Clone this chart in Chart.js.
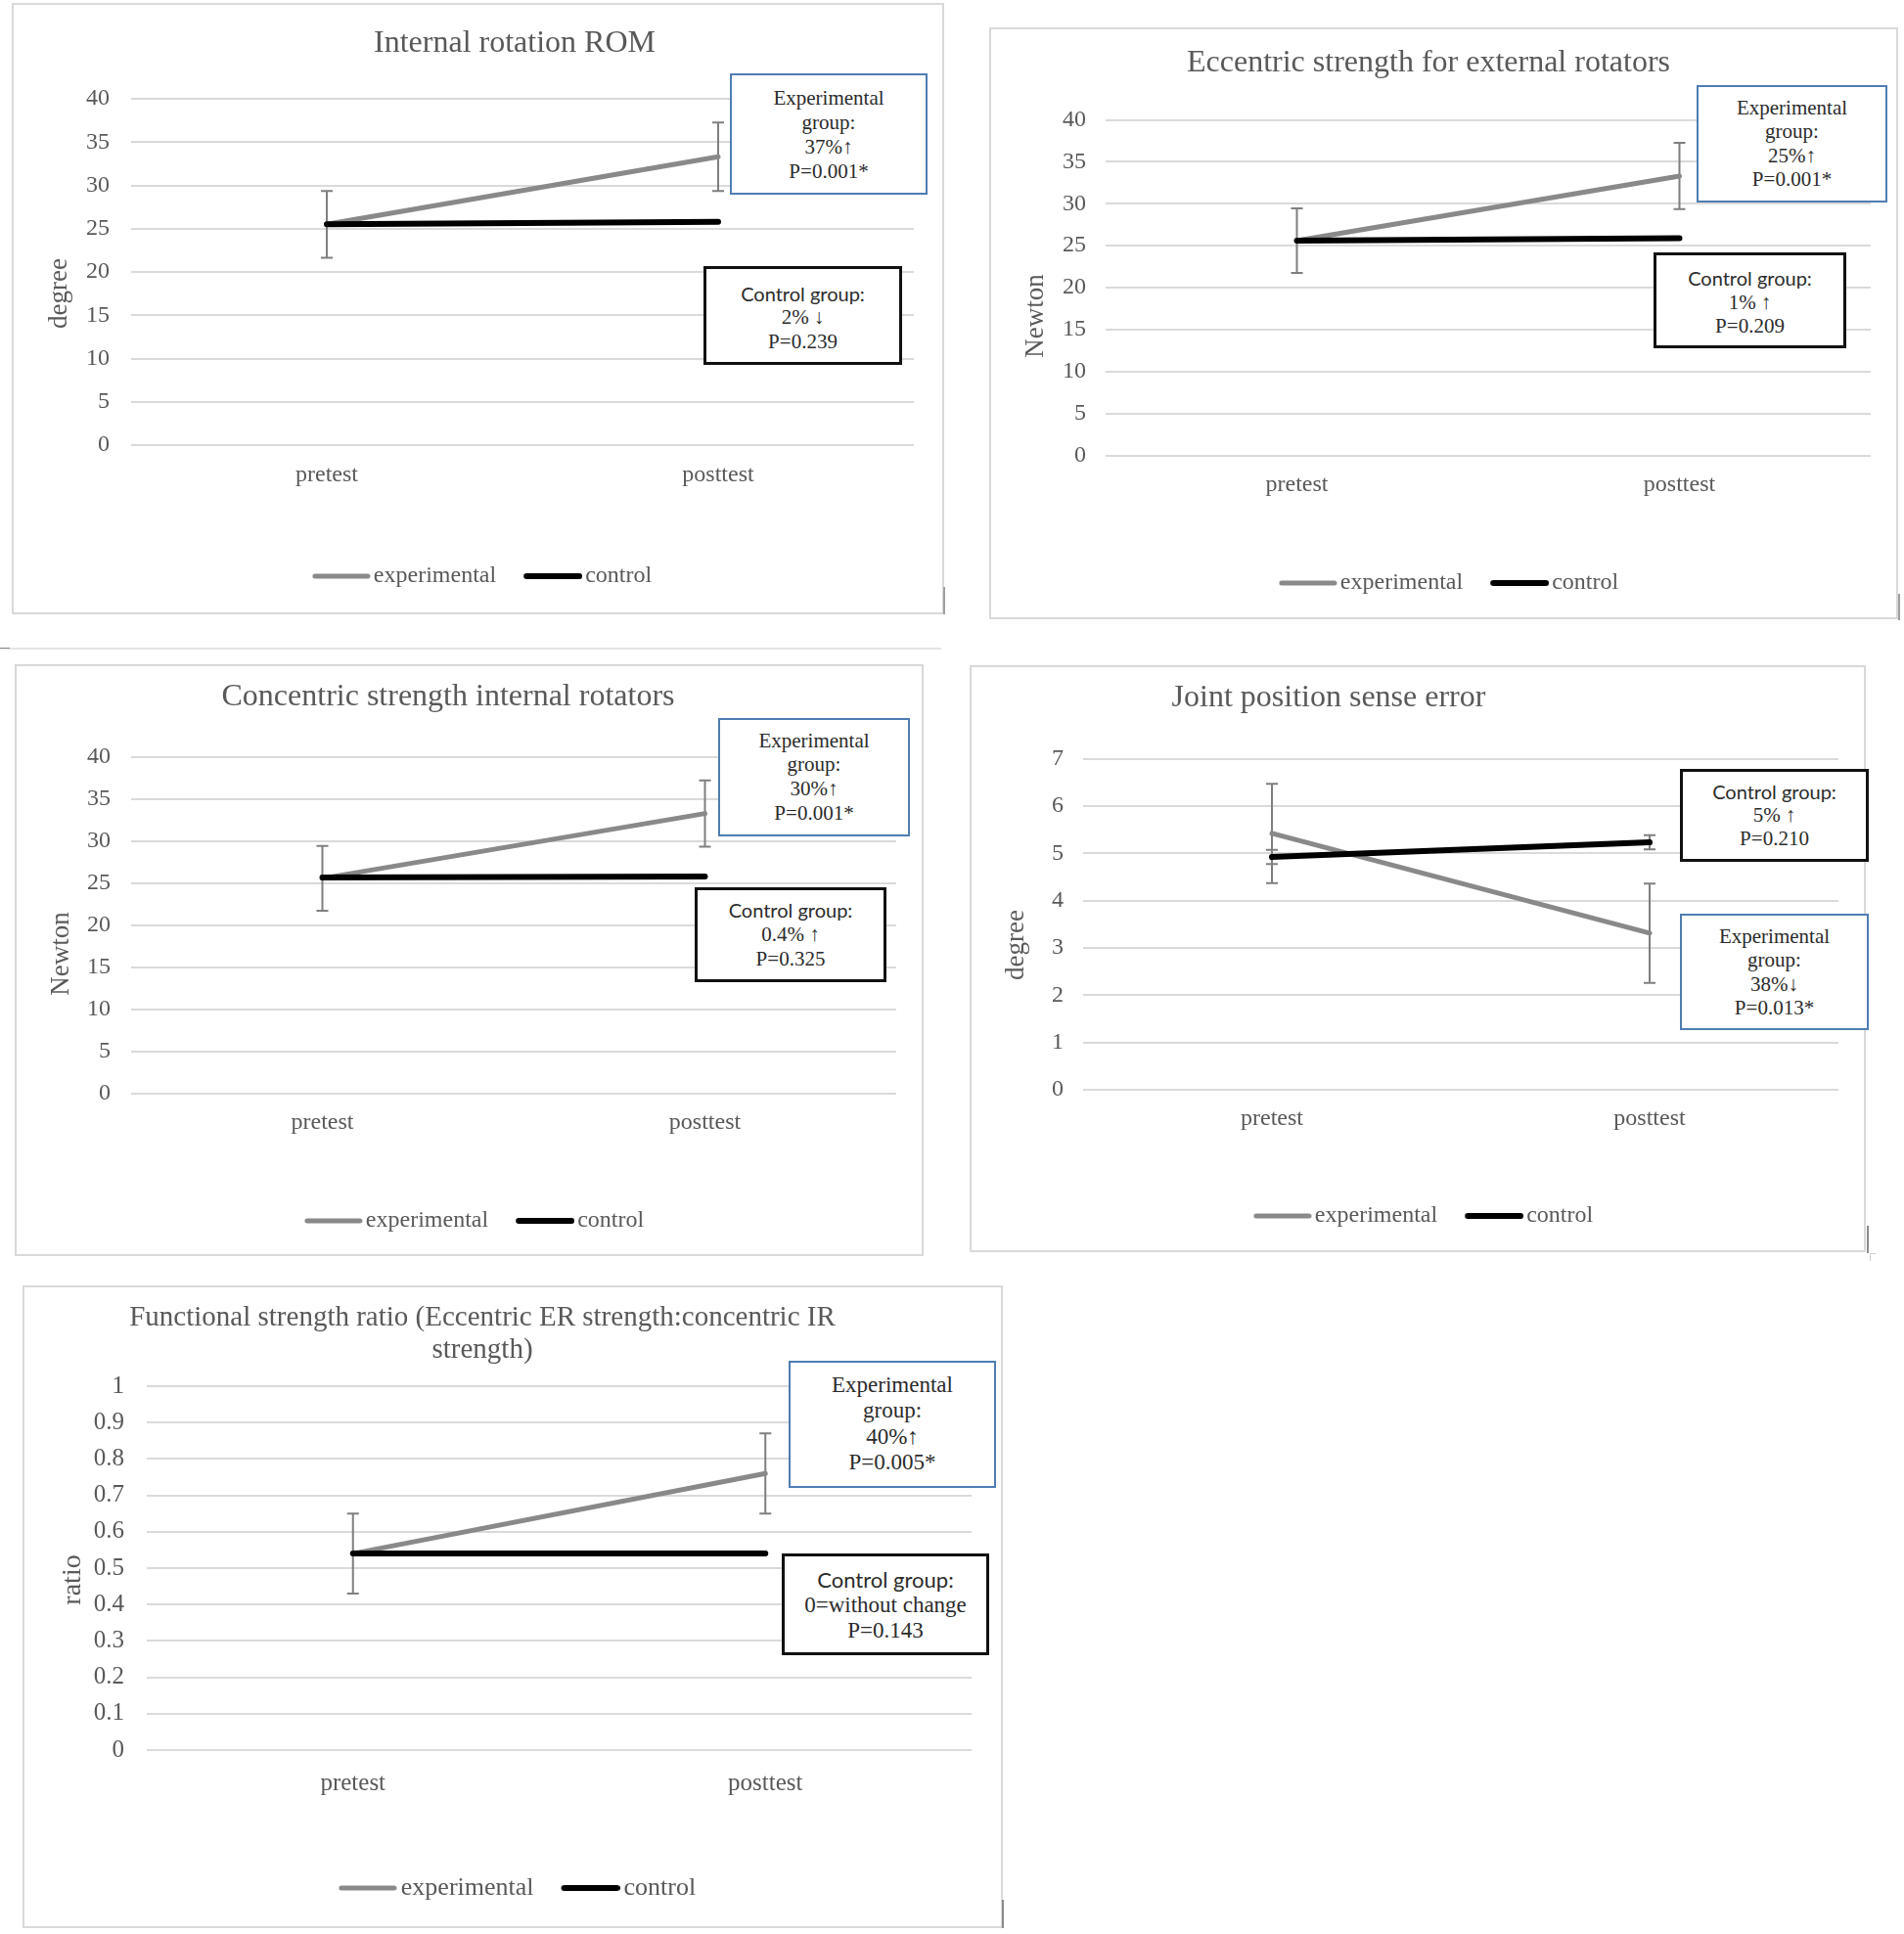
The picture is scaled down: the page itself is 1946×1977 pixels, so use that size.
<!DOCTYPE html>
<html><head><meta charset="utf-8">
<script src="https://cdn.jsdelivr.net/npm/chart.js@4.4.1/dist/chart.umd.min.js"></script>
<style>
html,body{margin:0;padding:0;background:#fff;}
body{width:1946px;height:1977px;position:relative;overflow:hidden;}
.frame{position:absolute;box-sizing:border-box;border:2px solid #d9d9d9;}
canvas{position:absolute;}
.box{position:absolute;box-sizing:border-box;background:#fff;text-align:center;color:#2b2b2b;font-family:"Liberation Serif","Times New Roman",serif;white-space:nowrap;}
.box.exp{border:2px solid #4e7db3;}
.box.ctl{border:3px solid #111;}
.box .sans{font-family:Lato,"Liberation Sans",sans-serif;}
.mark{position:absolute;}
</style></head><body>
<script>
// ---------- data ----------
const categories = ['pretest', 'posttest'];
const seriesNames = ['experimental', 'control'];

const romExperimental = [25.5, 33.3];
const romExperimentalSD = [3.85, 3.95];
const romControl = [25.5, 25.8];

const eccExperimental = [25.6, 33.3];
const eccExperimentalSD = [3.85, 3.95];
const eccControl = [25.6, 25.9];

const conExperimental = [25.6, 33.3];
const conExperimentalSD = [3.85, 3.95];
const conControl = [25.7, 25.8];

const jpsExperimental = [5.42, 3.31];
const jpsExperimentalSD = [1.05, 1.05];
const jpsControl = [4.92, 5.23];
const jpsControlSD = [0.15, 0.15];

const fsrExperimental = [0.54, 0.76];
const fsrExperimentalSD = [0.11, 0.11];
const fsrControl = [0.54, 0.54];

const ticks0to40 = [0, 5, 10, 15, 20, 25, 30, 35, 40];
const ticks0to7 = [0, 1, 2, 3, 4, 5, 6, 7];
const ticksRatio = [0, 0.1, 0.2, 0.3, 0.4, 0.5, 0.6, 0.7, 0.8, 0.9, 1];

const titleRom = 'Internal rotation ROM';
const titleEcc = 'Eccentric strength for external rotators';
const titleCon = 'Concentric strength internal rotators';
const titleJps = 'Joint position sense error';
const titleFsr = ['Functional strength ratio (Eccentric ER strength:concentric IR', 'strength)'];

const noteRomExp = ['Experimental', 'group:', '37%↑', 'P=0.001*'];
const noteRomCtl = ['Control group:', '2% ↓', 'P=0.239'];
const noteEccExp = ['Experimental', 'group:', '25%↑', 'P=0.001*'];
const noteEccCtl = ['Control group:', '1% ↑', 'P=0.209'];
const noteConExp = ['Experimental', 'group:', '30%↑', 'P=0.001*'];
const noteConCtl = ['Control group:', '0.4% ↑', 'P=0.325'];
const noteJpsCtl = ['Control group:', '5% ↑', 'P=0.210'];
const noteJpsExp = ['Experimental', 'group:', '38%↓', 'P=0.013*'];
const noteFsrExp = ['Experimental', 'group:', '40%↑', 'P=0.005*'];
const noteFsrCtl = ['Control group:', '0=without change', 'P=0.143'];

// ---------- plugins ----------
const SERIF = "'Liberation Serif','Times New Roman',serif";
const LEG_W = 54;   // legend icon slot width

function legendIcon(color, width) {
  // line icon shifted right so it sits next to the label text
  const c = document.createElement('canvas');
  c.width = LEG_W + 18; c.height = 10;
  const g = c.getContext('2d');
  g.strokeStyle = color; g.lineWidth = width; g.lineCap = 'round';
  g.beginPath(); g.moveTo(15, 5); g.lineTo(c.width - 3, 5); g.stroke();
  return c;
}

const layoutFix = {
  id: 'layoutFix',
  afterLayout(chart, args, o) {
    const t = chart.titleBlock;
    if (t) {
      t.left = o.tx - 700; t.right = o.tx + 700; t.width = 1400;
      const h = t.height; t.top = o.ty - o.tlh / 2; t.bottom = t.top + h;
    }
    const lg = chart.legend;
    if (lg) { lg.left = 0; lg.right = 2 * o.lc; lg.width = 2 * o.lc; }
  }
};
const axisTitle = {
  id: 'axisTitle',
  afterDraw(chart, args, o) {
    const ctx = chart.ctx;
    ctx.save();
    ctx.translate(o.x, o.y);
    ctx.rotate(-Math.PI / 2);
    ctx.font = o.size + 'px ' + SERIF;
    ctx.fillStyle = '#595959';
    ctx.textAlign = 'center';
    ctx.textBaseline = 'middle';
    ctx.fillText(o.text, 0, 0);
    ctx.restore();
  }
};
const errorBars = {
  id: 'errorBars',
  beforeDatasetsDraw(chart, args, o) {
    const ctx = chart.ctx, ys = chart.scales.y;
    chart.data.datasets.forEach((ds, i) => {
      if (!ds.errorBars) return;
      const meta = chart.getDatasetMeta(i);
      meta.data.forEach((pt, j) => {
        const v = ds.data[j], e = ds.errorBars[j];
        const yt = ys.getPixelForValue(v + e), yb = ys.getPixelForValue(v - e);
        const c = o.cap / 2;
        ctx.save();
        ctx.strokeStyle = o.color; ctx.lineWidth = o.width;
        ctx.beginPath();
        ctx.moveTo(pt.x, yt); ctx.lineTo(pt.x, yb);
        ctx.moveTo(pt.x - c, yt); ctx.lineTo(pt.x + c, yt);
        ctx.moveTo(pt.x - c, yb); ctx.lineTo(pt.x + c, yb);
        ctx.stroke();
        ctx.restore();
      });
    });
  }
};

function addDiv(cls, l, t, w, h, bg) {
  const d = document.createElement('div');
  d.className = cls;
  d.style.left = l + 'px'; d.style.top = t + 'px';
  d.style.width = w + 'px'; d.style.height = h + 'px';
  if (bg) d.style.background = bg;
  document.body.appendChild(d);
  return d;
}

function addNote(lines, kind, l, t, r, b, pt, lh, fs) {
  const d = addDiv('box ' + kind, l, t, r - l, b - t);
  d.style.paddingTop = pt + 'px';
  lines.forEach((s, i) => {
    const ln = document.createElement('div');
    ln.textContent = s;
    ln.style.height = lh + 'px';
    ln.style.lineHeight = lh + 'px';
    ln.style.fontSize = fs + 'px';
    if (kind === 'ctl' && i === 0) { ln.className = 'sans'; ln.style.fontSize = (fs - 1) + 'px'; }
    d.appendChild(ln);
  });
}

function makePanel(p) {
  addDiv('frame', p.L, p.T, p.W, p.H);
  const cv = document.createElement('canvas');
  cv.width = p.W; cv.height = p.H;
  cv.style.left = p.L + 'px'; cv.style.top = p.T + 'px';
  cv.style.width = p.W + 'px'; cv.style.height = p.H + 'px';
  document.body.appendChild(cv);
  const nT = Array.isArray(p.title) ? p.title.length : 1;
  const LP = 25;
  const datasets = [
    { label: seriesNames[0], data: p.exp, errorBars: p.expErr, borderColor: '#898989', backgroundColor: '#898989',
      borderWidth: 5, pointRadius: 0, pointHoverRadius: 0, tension: 0, order: 2, borderCapStyle: 'round' },
    { label: seriesNames[1], data: p.ctl, errorBars: p.ctlErr, borderColor: '#000000', backgroundColor: '#000000',
      borderWidth: 6, pointRadius: 0, pointHoverRadius: 0, tension: 0, order: 1, borderCapStyle: 'round' }
  ];
  new Chart(cv, {
    type: 'line',
    data: { labels: categories, datasets },
    options: {
      responsive: false, animation: false, devicePixelRatio: 1,
      events: [],
      layout: { padding: { left: 0, top: 0, right: p.W - p.cr, bottom: p.H - p.ly - p.lfs / 2 - 10 } },
      scales: {
        x: {
          offset: true,
          grid: { display: false }, border: { display: false },
          ticks: { font: { family: SERIF, size: p.catFont }, color: '#595959', autoSkip: false, maxRotation: 0,
                   padding: p.catY - p.cb - p.catFont * 0.6 - 6 },
          afterFit: s => { s.height = p.ly - p.lfs / 2 - LP - p.cb; }
        },
        y: {
          min: p.ticks[0], max: p.ticks[p.ticks.length - 1],
          grid: { color: '#dadada', lineWidth: 2, drawTicks: false }, border: { display: false },
          ticks: { font: { family: SERIF, size: p.tickFont }, color: '#595959', padding: p.cl - p.tickRight,
                   callback: v => String(v) },
          afterBuildTicks: s => { s.ticks = p.ticks.map(v => ({ value: v })); },
          afterFit: s => { s.width = p.cl; }
        }
      },
      plugins: {
        legend: {
          position: 'bottom',
          labels: { usePointStyle: true, pointStyleWidth: LEG_W, padding: LP,
                    font: { family: SERIF, size: p.lfs }, color: '#595959',
                    sort: (a, b) => a.datasetIndex - b.datasetIndex,
                    generateLabels: chart => Chart.defaults.plugins.legend.labels.generateLabels(chart).map(it => {
                      const ds = chart.data.datasets[it.datasetIndex];
                      it.pointStyle = legendIcon(ds.borderColor, ds.borderWidth);
                      return it;
                    }) }
        },
        title: { display: true, text: p.title, color: '#595959',
                 font: { family: SERIF, size: p.tfs, weight: 'normal', lineHeight: p.tlh + 'px' },
                 padding: { top: 0, bottom: p.ct - nT * p.tlh } },
        tooltip: { enabled: false },
        layoutFix: { tx: p.tx, ty: p.ty + 2, tlh: p.tlh, lc: p.lc },
        axisTitle: { text: p.axis, x: p.ax + 2, y: p.ay, size: p.afs },
        errorBars: { color: '#7f7f7f', width: 2, cap: 12 }
      }
    },
    plugins: [layoutFix, axisTitle, errorBars]
  });
}

// separator line and stray marks
addDiv('mark', 0, 662, 962, 2, '#e4e4e4');
addDiv('mark', 0, 662, 10, 1, '#8a8a8a');

makePanel({ L: 12, T: 3, W: 953, H: 625, cl: 122, cr: 922, ct: 98, cb: 452,
  title: titleRom, tx: 514, ty: 40, tfs: 32, tlh: 38,
  axis: 'degree', ax: 47, ay: 297, afs: 27,
  ticks: ticks0to40, tickFont: 24, tickRight: 100,
  catFont: 24, catY: 481, lfs: 24, ly: 586, lc: 479,
  exp: romExperimental, expErr: romExperimentalSD, ctl: romControl, ctlErr: null });

makePanel({ L: 1011, T: 28, W: 929, H: 605, cl: 119, cr: 901, ct: 94.5, cb: 437.5,
  title: titleEcc, tx: 449, ty: 35, tfs: 32, tlh: 38,
  axis: 'Newton', ax: 46, ay: 295, afs: 27,
  ticks: ticks0to40, tickFont: 24, tickRight: 99,
  catFont: 24, catY: 466, lfs: 24, ly: 568, lc: 468,
  exp: eccExperimental, expErr: eccExperimentalSD, ctl: eccControl, ctlErr: null });

makePanel({ L: 15, T: 679, W: 929, H: 605, cl: 119, cr: 901, ct: 95, cb: 439,
  title: titleCon, tx: 443, ty: 32, tfs: 32, tlh: 38,
  axis: 'Newton', ax: 46, ay: 296, afs: 27,
  ticks: ticks0to40, tickFont: 24, tickRight: 98,
  catFont: 24, catY: 467, lfs: 24, ly: 569, lc: 468,
  exp: conExperimental, expErr: conExperimentalSD, ctl: conControl, ctlErr: null });

makePanel({ L: 991, T: 680, W: 916, H: 600, cl: 116, cr: 888, ct: 95.5, cb: 434,
  title: titleJps, tx: 367, ty: 32, tfs: 32, tlh: 38,
  axis: 'degree', ax: 46, ay: 286, afs: 27,
  ticks: ticks0to7, tickFont: 24, tickRight: 96,
  catFont: 24, catY: 462, lfs: 24, ly: 563, lc: 462,
  exp: jpsExperimental, expErr: jpsExperimentalSD, ctl: jpsControl, ctlErr: jpsControlSD });

makePanel({ L: 23, T: 1314, W: 1002, H: 657, cl: 127, cr: 970, ct: 103, cb: 475,
  title: titleFsr, tx: 470, ty: 31, tfs: 29, tlh: 33,
  axis: 'ratio', ax: 50, ay: 301, afs: 28,
  ticks: ticksRatio, tickFont: 25, tickRight: 104,
  catFont: 25, catY: 507, lfs: 26, ly: 616, lc: 504,
  exp: fsrExperimental, expErr: fsrExperimentalSD, ctl: fsrControl, ctlErr: null });

// annotation boxes
addNote(noteRomExp, 'exp', 746, 75, 948, 199, 10.5, 25, 21);
addNote(noteRomCtl, 'ctl', 719, 272, 922, 373, 12.5, 24.5, 21);
addNote(noteEccExp, 'exp', 1734, 87, 1929, 207, 9, 24.3, 21);
addNote(noteEccCtl, 'ctl', 1690, 258, 1887, 356, 11, 24.5, 21);
addNote(noteConExp, 'exp', 734, 734, 930, 855, 8.7, 24.7, 21);
addNote(noteConCtl, 'ctl', 710, 907, 906, 1004, 7.5, 25, 21);
addNote(noteJpsCtl, 'ctl', 1717, 786, 1910, 881, 8, 24, 21);
addNote(noteJpsExp, 'exp', 1717, 934, 1910, 1053, 9, 24.3, 21);
addNote(noteFsrExp, 'exp', 806, 1391, 1018, 1521, 10, 26.3, 23);
addNote(noteFsrCtl, 'ctl', 799, 1588, 1011, 1692, 11, 26, 23);

// darker edge marks at frame corners
addDiv('mark', 964, 600, 2, 28, '#a0a0a0');
addDiv('mark', 1940, 607, 2, 27, '#a0a0a0');
addDiv('mark', 1908, 1253, 2, 28, '#8c8c8c');
addDiv('mark', 1911, 1281, 6, 1, '#cfcfcf');
addDiv('mark', 1911, 1281, 1, 8, '#cfcfcf');
addDiv('mark', 1024, 1942, 2, 29, '#8c8c8c');
</script>
</body></html>
